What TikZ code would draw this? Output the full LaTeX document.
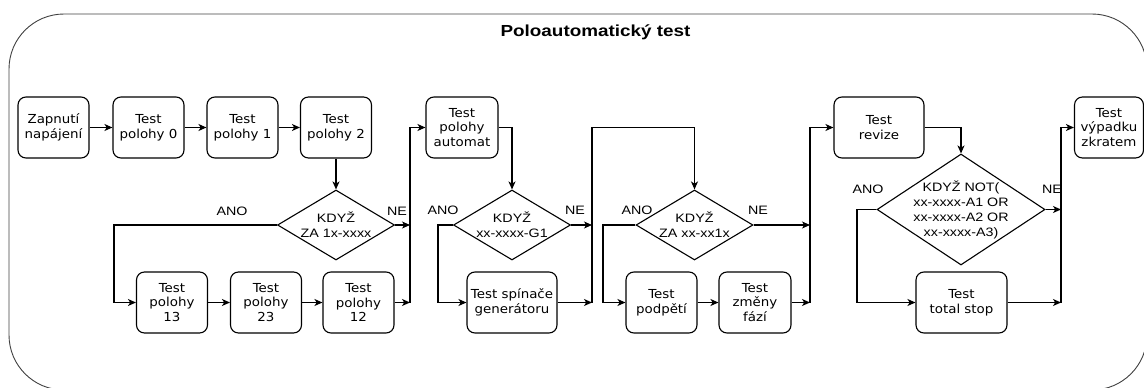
\documentclass[tikz,border=0pt]{standalone}
\usepackage{fontspec}
\setmainfont{Liberation Sans}
\newfontfamily\boxfont[FakeStretch=1.08]{DejaVu Sans}
\newfontfamily\condfont[FakeStretch=1.17]{Liberation Sans}
\newfontfamily\titlefont[FakeStretch=1.18]{Liberation Sans}
\usetikzlibrary{arrows.meta,shapes.geometric}

\tikzset{
  testbox/.style={draw,rounded corners=8pt,minimum width=71pt,minimum height=61pt,inner sep=1pt,align=center,font=\boxfont\fontsize{12.4}{14.8}\selectfont},
  cond/.style={draw,diamond,inner sep=0pt,minimum width=117pt,minimum height=70pt},
  condtext/.style={align=center,font=\condfont\fontsize{12.2}{15}\selectfont},
  lbl/.style={font=\condfont\fontsize{12.2}{14}\selectfont},
  arr/.style={-{Stealth[length=8pt,width=7pt,inset=2.2pt]}},
}

\begin{document}
\begin{tikzpicture}[x=1pt,y=-1pt,line width=1.1pt]
  \useasboundingbox (0,0) rectangle (1144,388);
  \draw [line width=0.9pt,black!75,rounded corners=55pt] (9,14) rectangle (1147,390);
  \node (title) at (595.5,32) [font=\titlefont\bfseries\fontsize{16}{18}\selectfont] {Poloautomatický test};

  % horni rada
  \node (zap) at (53.5,127.5) [testbox] {Zapnutí\\napájení};
  \node (p0) at (148.5,127.5) [testbox] {Test\\polohy 0};
  \node (p1) at (242.5,127.5) [testbox] {Test\\polohy 1};
  \node (p2) at (336,127.5) [testbox] {Test\\polohy 2};
  \node (aut) at (462,127.5) [testbox,minimum width=72pt] {Test\\polohy\\automat};
  \node (rev) at (879,127.5) [testbox,minimum width=90pt] {Test\\revize};
  \node (vyp) at (1109,127.5) [testbox,minimum width=69pt] {Test\\výpadku\\zkratem};

  % dolni rada
  \node (p13) at (172,302.5) [testbox] {Test\\polohy\\13};
  \node (p23) at (266,302.5) [testbox] {Test\\polohy\\23};
  \node (p12) at (358.5,302.5) [testbox] {Test\\polohy\\12};
  \node (sp) at (512,302.5) [testbox,minimum width=90pt] {Test spínače\\generátoru};
  \node (pod) at (661.5,302.5) [testbox] {Test\\podpětí};
  \node (zf) at (755,302.5) [testbox,minimum width=72pt] {Test\\změny\\fází};
  \node (ts) at (961.5,302.5) [testbox,minimum width=91pt] {Test\\total stop};

  % podminky
  \node (d1) at (336,225) [cond] {};
  \node (d1t) at (d1) [condtext] {KDYŽ\\ZA 1x-xxxx};
  \node (d2) at (512,225) [cond] {};
  \node (d2t) at (d2) [condtext] {KDYŽ\\xx-xxxx-G1};
  \node (d3) at (694.5,225) [cond] {};
  \node (d3t) at (d3) [condtext] {KDYŽ\\ZA xx-xx1x};
  \node (d4) at (961,209.5) [cond,minimum width=168pt,minimum height=111pt] {};
  \node (d4t) at (d4) [condtext] {KDYŽ NOT(\\xx-xxxx-A1 OR\\xx-xxxx-A2 OR\\xx-xxxx-A3)};

  \node (ano1) at (232,211) [lbl] {ANO};
  \node (ne1) at (397,211) [lbl] {NE};
  \node (ano2) at (443,210) [lbl] {ANO};
  \node (ne2) at (575,210) [lbl] {NE};
  \node (ano3) at (637,210) [lbl] {ANO};
  \node (ne3) at (758,210) [lbl] {NE};
  \node (ano4) at (868,189) [lbl] {ANO};
  \node (ne4) at (1052,189) [lbl] {NE};

  % pomocne body
  \coordinate (a1) at (114,225);
  \coordinate (n1) at (410,225);
  \coordinate (m1) at (410,302.5);
  \coordinate (a2) at (438,225);
  \coordinate (n2) at (592,225);
  \coordinate (m2) at (592,302.5);
  \coordinate (t2) at (592,127.5);
  \coordinate (a3) at (603,225);
  \coordinate (n3) at (810,225);
  \coordinate (m3) at (810,302.5);
  \coordinate (a4) at (857,209.5);
  \coordinate (n4) at (1061,209.5);
  \coordinate (m4) at (1061,302.5);

  \draw [arr] (zap) -- (p0);
  \draw [arr] (p0) -- (p1);
  \draw [arr] (p1) -- (p2);
  \draw [arr] (p2) -- (d1);
  \draw [arr] (d1.west) -- (a1) |- (p13);
  \draw [arr] (p13) -- (p23);
  \draw [arr] (p23) -- (p12);
  \draw [arr] (p12) -- (m1);
  \draw [arr] (d1.east) -- (n1);
  \draw [arr] (m1) |- (aut);

  \draw [arr] (aut) -| (d2);
  \draw [arr] (d2.west) -- (a2) |- (sp);
  \draw [arr] (sp) -- (m2);
  \draw [arr] (d2.east) -- (n2);
  \draw [arr] (m2) -- (t2) -| (d3);

  \draw [arr] (d3.west) -- (a3) |- (pod);
  \draw [arr] (pod) -- (zf);
  \draw [arr] (zf) -- (m3);
  \draw [arr] (d3.east) -- (n3);
  \draw [arr] (m3) |- (rev);

  \draw [arr] (rev) -| (d4);
  \draw [arr] (d4.west) -- (a4) |- (ts);
  \draw [arr] (ts) -- (m4);
  \draw [arr] (d4.east) -- (n4);
  \draw [arr] (m4) |- (vyp);
\end{tikzpicture}
\end{document}
